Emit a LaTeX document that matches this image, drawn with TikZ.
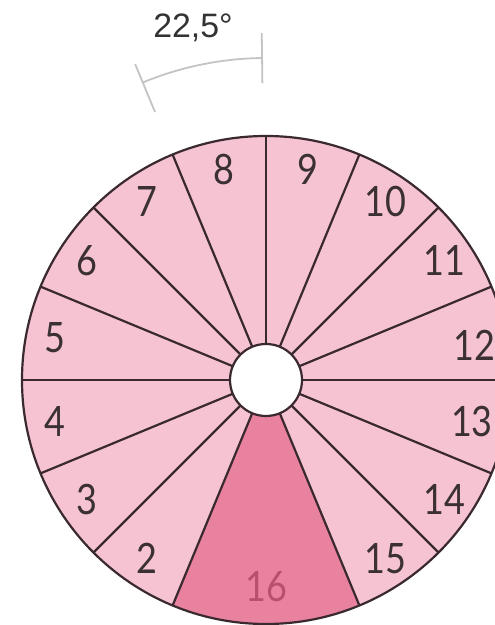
\documentclass[tikz,border=0pt]{standalone}
\usepackage{fontspec}
\newfontfamily\numfont[FakeStretch=0.86]{Lato}
\newfontfamily\annfont{Liberation Sans}
\definecolor{pinkA}{HTML}{F5C3D1}
\definecolor{pinkB}{HTML}{E9829F}
\definecolor{lineC}{HTML}{3A2A30}
\definecolor{txtC}{HTML}{3B3034}
\definecolor{txtSixteen}{HTML}{B8506E}
\definecolor{annC}{HTML}{C4C4C4}
\begin{document}
\begin{tikzpicture}[x=1bp,y=1bp,
  spoke/.style={draw=lineC, line width=2.2bp},
  num/.style={font=\numfont\fontsize{42}{42}\selectfont, text=txtC, inner sep=0pt},
  ann/.style={draw=annC, line width=1.8bp}]
\useasboundingbox (-266,-245) rectangle (229,380);
\clip (-266,-245) rectangle (229,380);
\fill[white] (-266,-245) rectangle (229,380);
\coordinate (c) at (0,0);
\fill[pinkA] (c) circle (244);
\fill[pinkB] (c) -- (247.5:244) arc (247.5:292.5:244) -- cycle;
\foreach \a in {0,22.5,...,337.5} {
  \ifdim\a pt=270pt\relax\else \draw[spoke] (\a:36) -- (\a:244); \fi
}
\draw[spoke] (c) circle (244);
\filldraw[fill=white, draw=lineC, line width=2.2bp] (c) circle (36);
\foreach \n/\a in {2/236.25,3/213.75,4/191.25,5/168.75,6/146.25,7/123.75,8/101.25,9/78.75,10/56.25,11/33.75,14/-33.75,15/-56.25} {
  \node[num] (l\n) at (\a:215) {\n};
}
\node[num] (l12) at (9.5:211) {12};
\node[num] (l13) at (-11.3:210) {13};
\node[num, text=txtSixteen] (l16) at (270:207) {16};
\draw[ann] (90.7:322) arc (90.7:112.5:322);
\draw[ann] (90.7:297) -- (90.7:347);
\draw[ann] (112.5:290) -- (112.5:342);
\node[font=\annfont\fontsize{34}{34}\selectfont, text=black!80, inner sep=0pt] (ang) at (-73,352) {22,5°};
\end{tikzpicture}
\end{document}
